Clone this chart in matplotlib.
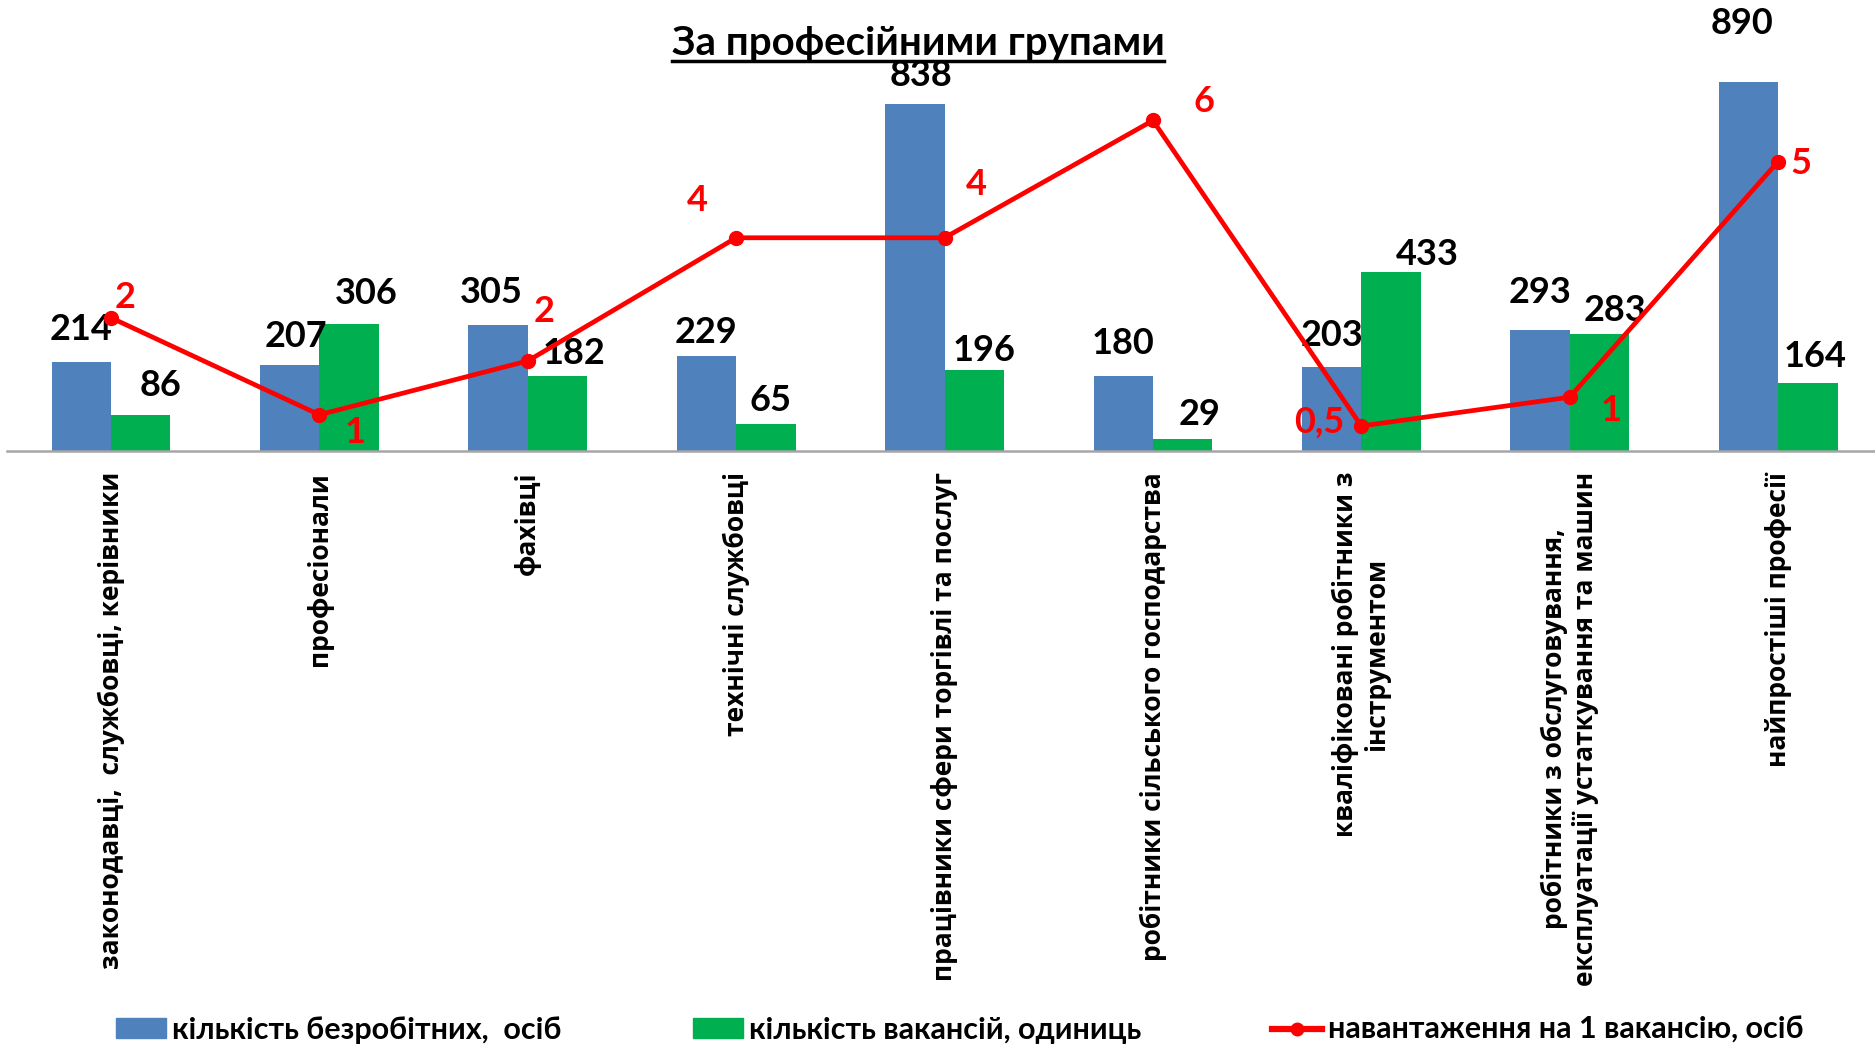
import numpy as np
import matplotlib
matplotlib.use("Agg")
import matplotlib.pyplot as plt
from matplotlib.lines import Line2D
from matplotlib.patches import Patch

# дані з діаграми
groups = [
    "законодавці,  службовці, керівники",
    "професіонали",
    "фахівці",
    "технічні службовці",
    "працівники сфери торгівлі та послуг",
    "робітники сільського господарства",
    "кваліфіковані робітники з\nінструментом",
    "робітники з обслуговування,\nексплуатації устаткування та машин",
    "найпростіші професії",
]
unemployed = [214, 207, 305, 229, 838, 180, 203, 293, 890]
vacancies = [86, 306, 182, 65, 196, 29, 433, 283, 164]
load = [2.5, 0.68, 1.69, 4.0, 4.0, 6.2, 0.47, 1.01, 5.43]
load_labels = ["2", "1", "2", "4", "4", "6", "0,5", "1", "5"]

title = "За професійними групами"
legend_labels = ["кількість безробітних,  осіб", "кількість вакансій, одиниць",
                 "навантаження на 1 вакансію, осіб"]

# зсуви підписів (пікселі, вгору = +)
blue_off = [(0, 33), (6, 29), (-7, 32), (0, 24), (6, 28), (0, 33), (0, 31), (0, 37), (-6, 59)]
green_off = [(20, 30), (17, 31), (17, 22), (5, 24), (10, 19), (17, 25), (36, 17), (16, 23), (7, 27)]
red_off = [(14, 20), (36, -18), (16, 49), (-39, 37), (32, 53), (51, 19), (-42, 4), (41, -13), (23, -2)]

BLUE = "#4F81BD"
GREEN = "#00B050"
RED = "#FF0000"
NUM_FONT = ["Lato", "DejaVu Sans"]
LBL_FONT = ["Open Sans", "DejaVu Sans"]

fig = plt.figure(figsize=(18.75, 10.45), dpi=100)
ax = fig.add_axes([0.0036, 0.5684, 1.0003, 0.4316])
ax2 = ax.twinx()

x = np.arange(len(groups))
w = 0.285
ax.bar(x - w / 2, unemployed, w, color=BLUE, zorder=2)
ax.bar(x + w / 2, vacancies, w, color=GREEN, zorder=2)

ax.set_xlim(-0.5, len(groups) - 0.5)
ax.set_ylim(0, 1089)
ax.set_yticks([])
for s in ["top", "left", "right"]:
    ax.spines[s].set_visible(False)
ax.spines["bottom"].set_color("#A6A6A6")
ax.spines["bottom"].set_linewidth(1.8)

ax.set_xticks(x)
ax.set_xticklabels(groups, rotation=90, va="top", ha="center", multialignment="center",
                   fontsize=19, fontweight="bold", family=LBL_FONT)
ax.tick_params(axis="x", length=0, pad=15)

for i in range(len(groups)):
    ax.annotate(str(unemployed[i]), (x[i] - w / 2, unemployed[i]), xytext=blue_off[i],
                textcoords="offset pixels", ha="center", va="center",
                fontsize=26, fontweight="bold", family=NUM_FONT, color="black")
    ax.annotate(str(vacancies[i]), (x[i] + w / 2, vacancies[i]), xytext=green_off[i],
                textcoords="offset pixels", ha="center", va="center",
                fontsize=26, fontweight="bold", family=NUM_FONT, color="black")

ax2.plot(x, load, color=RED, lw=3.4, marker="o", ms=10, zorder=3)
ax2.set_ylim(0, 8.46)
ax2.set_yticks([])
for s in ax2.spines.values():
    s.set_visible(False)
for i in range(len(groups)):
    ax2.annotate(load_labels[i], (x[i], load[i]), xytext=red_off[i],
                 textcoords="offset pixels", ha="center", va="center",
                 fontsize=26, fontweight="bold", family=NUM_FONT, color=RED)

t = fig.text(918 / 1875, 1 - 55 / 1045, title, ha="center", va="baseline",
             fontsize=29, fontweight="bold", family=NUM_FONT)
fig.canvas.draw()
bb = t.get_window_extent().transformed(fig.transFigure.inverted())
fig.add_artist(Line2D([bb.x0, bb.x1], [1 - 61 / 1045] * 2, color="black", lw=2.5,
                      transform=fig.transFigure))

handles = [Patch(color=BLUE), Patch(color=GREEN),
           Line2D([], [], color=RED, lw=4.5, marker="o", ms=9)]
fig.legend(handles, legend_labels, ncol=3, loc="center left",
           bbox_to_anchor=(116 / 1875, 1 - 1030 / 1045), frameon=False,
           prop={"family": NUM_FONT, "weight": "bold", "size": 22},
           handlelength=1.63, handleheight=0.63, handletextpad=0.2, columnspacing=4.3,
           borderpad=0, borderaxespad=0)

fig.savefig("out.png", dpi=100)
